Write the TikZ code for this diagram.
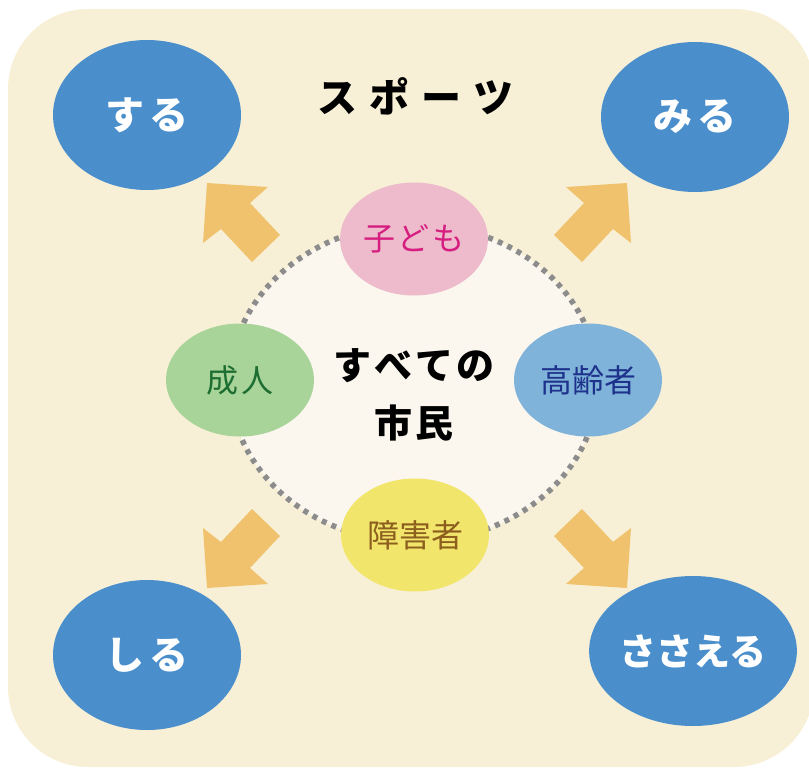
\documentclass[tikz,border=0pt]{standalone}
\usepackage{fontspec}
\newfontfamily\jp{Noto Sans CJK JP}
\usetikzlibrary{shapes.geometric}
\definecolor{bgbeige}{RGB}{247,240,214}
\definecolor{centerfill}{RGB}{251,246,238}
\definecolor{dotgray}{RGB}{140,140,140}
\definecolor{arrowfill}{RGB}{240,194,110}
\definecolor{actblue}{RGB}{74,143,204}
\definecolor{pinkfill}{RGB}{237,187,203}
\definecolor{pinktext}{RGB}{214,30,128}
\definecolor{greenfill}{RGB}{168,212,154}
\definecolor{greentext}{RGB}{30,110,50}
\definecolor{bluefill}{RGB}{127,179,217}
\definecolor{bluetext}{RGB}{30,50,140}
\definecolor{yellowfill}{RGB}{242,229,107}
\definecolor{browntext}{RGB}{140,95,30}
\tikzset{
  actbox/.style={ellipse, fill=actblue, inner sep=0pt, minimum width=188pt, minimum height=150pt,
    text=white, font=\jp\bfseries\fontsize{39}{40}\selectfont},
  groupbox/.style={ellipse, inner sep=0pt, minimum width=148pt, minimum height=113pt,
    font=\jp\fontsize{32}{34}\selectfont},
  blockarrow/.style={fill=arrowfill},
}
\begin{document}
\begin{tikzpicture}[x=1pt,y=-1pt]
\useasboundingbox (0,0) rectangle (809,769);
\fill[bgbeige, rounded corners=80pt] (8,9) rectangle (814,767);

% blue activity ellipses
\node[actbox] (suru) at (147,115) {す\hspace{6pt}る};
\node[actbox] (miru) at (695,117) {み\hspace{6pt}る};
\node[actbox] (shiru) at (147,655) {し\hspace{6pt}る};
\node[actbox, font=\jp\bfseries\fontsize{37}{40}\selectfont] (sasaeru) at (693,651) {ささえる};

% title
\node[font=\jp\bfseries\fontsize{40}{42}\selectfont] (title) at (415,96) {ス\hspace{12pt}ポ\hspace{12pt}ー\hspace{12pt}ツ};

% arrows (block shapes pointing from centre to each activity)
\fill[blockarrow] (207,183) -- (268,187) -- (250,203) -- (280,235) -- (252,262) -- (221,229) -- (203,243) -- cycle;
\fill[blockarrow] (627,183) -- (566,187) -- (584,203) -- (554,235) -- (582,262) -- (613,229) -- (631,243) -- cycle;
\fill[blockarrow] (207,588) -- (268,584) -- (250,568) -- (280,536) -- (252,509) -- (221,542) -- (203,528) -- cycle;
\fill[blockarrow] (627,588) -- (566,584) -- (584,568) -- (554,536) -- (582,509) -- (613,542) -- (631,528) -- cycle;

% centre
\node[ellipse, inner sep=0pt, minimum width=368pt, minimum height=318pt, fill=centerfill,
  draw=dotgray, line width=5.5pt, dash pattern=on 5pt off 5.5pt] (all) at (414,383) {};
\node[align=center, font=\jp\bfseries\fontsize{38}{58}\selectfont] (citizens) at (414,395)
  {す\hspace{3pt}べ\hspace{3pt}て\hspace{3pt}の\\市\hspace{3pt}民};

% groups
\node[groupbox, fill=pinkfill, text=pinktext] (kodomo) at (414,239) {子\hspace{3pt}ど\hspace{3pt}も};
\node[groupbox, fill=greenfill, text=greentext] (seijin) at (240,380) {成\hspace{3pt}人};
\node[groupbox, fill=bluefill, text=bluetext] (koreisha) at (588,380) {高齢者};
\node[groupbox, fill=yellowfill, text=browntext] (shogaisha) at (415,535) {障害者};
\end{tikzpicture}
\end{document}
